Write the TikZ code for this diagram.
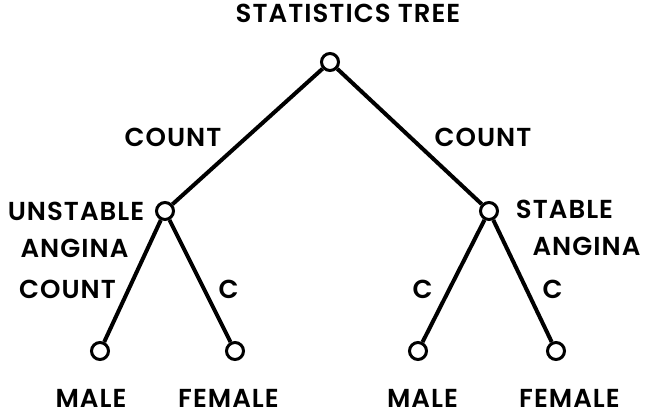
\documentclass[tikz,border=0pt]{standalone}
\usepackage{fontspec}
\setmainfont{Poppins SemiBold}[LetterSpace=4]
\tikzset{
  vtx/.style={circle,draw,line width=1.5pt,minimum size=8.5pt,inner sep=0pt},
  lbl/.style={inner sep=0pt,anchor=base,font=\fontsize{13}{15}\selectfont},
  branch/.style={line width=2pt}
}
\begin{document}
\begin{tikzpicture}[x=0.5pt,y=-0.5pt]
\useasboundingbox (0,0) rectangle (647,417);
% the tree
\node[vtx] (root) at (330,62) {};
\node[vtx] (ua) at (165,211) {};
\node[vtx] (sa) at (489,211) {};
\node[vtx] (uam) at (100,351) {};
\node[vtx] (uaf) at (235,351) {};
\node[vtx] (sam) at (418,351) {};
\node[vtx] (saf) at (556,351) {};
\draw[branch] (root)--(ua);
\draw[branch] (root)--(sa);
\draw[branch] (ua)--(uam);
\draw[branch] (ua)--(uaf);
\draw[branch] (sa)--(sam);
\draw[branch] (sa)--(saf);
% labels (base line at the foot of the capitals)
\node[lbl] (title) at (348,23) {STATISTICS TREE};
\node[lbl] (cntl) at (173,147) {COUNT};
\node[lbl] (cntr) at (483,147) {COUNT};
\node[lbl] (unst) at (76,220) {UNSTABLE};
\node[lbl] (angl) at (74.5,257) {ANGINA};
\node[lbl] (stab) at (564.5,218) {STABLE};
\node[lbl] (angr) at (586.5,255) {ANGINA};
\node[lbl] (cntu) at (67.5,298) {COUNT};
\node[lbl] (cuf) at (228.5,298) {C};
\node[lbl] (csm) at (422.5,298) {C};
\node[lbl] (csf) at (552.5,298) {C};
\node[lbl] (mall) at (91,407) {MALE};
\node[lbl] (feml) at (228.5,407) {FEMALE};
\node[lbl] (malr) at (422.5,407) {MALE};
\node[lbl] (femr) at (569.5,407) {FEMALE};
\end{tikzpicture}
\end{document}
